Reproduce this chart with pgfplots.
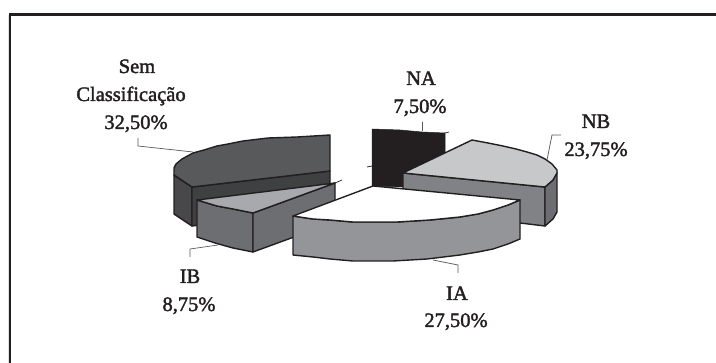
\documentclass[border=0pt]{standalone}
\usepackage{fontspec}
\setmainfont{Liberation Serif}
\newfontfamily\labfont[RawFeature={embolden=1.8}]{Liberation Serif}
\usepackage{pgfplots}
\pgfplotsset{compat=1.18}

\definecolor{ink}{HTML}{231F20}
\definecolor{semtop}{HTML}{58595B}
\definecolor{semside}{HTML}{3F4042}
\definecolor{semouter}{HTML}{48484A}
\definecolor{ibtop}{HTML}{A7A9AC}
\definecolor{ibside}{HTML}{6D6E71}
\definecolor{iaside}{HTML}{939598}
\definecolor{nbtop}{HTML}{C7C8CA}
\definecolor{nbside}{HTML}{808285}
\definecolor{nbouter}{HTML}{6D6E71}
\definecolor{leader}{HTML}{58595B}

\pgfplotsset{
  face/.style={draw=ink, line width=1.4pt, line join=round, fill=#1},
  lead/.style={draw=leader, line width=0.7pt, no markers},
}
\newcommand{\lab}[3]{\node[anchor=base, inner sep=0pt, text=ink,
  font=\labfont\fontsize{20.5}{24}\selectfont] at (axis cs:#1,#2) {#3};}

\begin{document}
\begin{tikzpicture}
\begin{axis}[
  at={(0,0)}, anchor=south west,
  x=1pt, y=-1pt,
  scale only axis,
  xmin=0, xmax=716, ymin=0, ymax=363,
  hide axis,
  no markers,
]
% page background
\addplot[draw=none, fill=white] coordinates {(0,0) (716,0) (716,363) (0,363)} -- cycle;

% frame, top and left
\addplot[draw=black!12, line width=1pt] coordinates {(8,15) (8,363)};
\addplot[draw=ink, line width=2.4pt] coordinates {(716,14.4) (10,14.4) (10,363)};

% NA: black slice at the back
\addplot[draw=ink, line width=0.7pt] coordinates {(445,133) (449,132)};
\addplot[draw=ink, line width=0.7pt] coordinates {(367,167) (372,166)};
\addplot[draw=ink, fill=ink, line width=0.5pt] coordinates
  {(372,129) (400,130) (422,132) (445,133) (445,175) (402,187) (372,186)} -- cycle;

% NB
\addplot[face=nbside] coordinates {(403,173) (545,187) (545,226) (520,223) (403,212)} -- cycle;
\addplot[face=nbouter] coordinates {(545,187) (553,180) (557,172) (557,212) (553,219) (545,226)} -- cycle;
\addplot[face=nbtop] coordinates
  {(405,172) (472,140) (488,143) (503,146) (516,149) (527,152) (537,155) (545,159) (552,164) (557,170) (557,173) (553,180) (545,187) (403,173)} -- cycle;

% Sem Classificacao
\addplot[face=semouter] coordinates {(174,175) (192,187) (192,226) (174,214)} -- cycle;
\addplot[face=semside] coordinates {(192,187) (330,171) (330,210) (192,226)} -- cycle;
\addplot[face=semtop] coordinates
  {(330,135) (297,137) (268,138) (243,141) (228,144) (217,146) (204,150) (193,153) (182,159) (176,164) (174,168) (174,175) (192,187) (330,171)} -- cycle;

% IB
\addplot[draw=ink, line width=0.7pt] coordinates {(335,183) (342,180)};
\addplot[face=ibside] coordinates {(197,200) (217,206) (233,209) (253,213) (253,252) (233,248) (215,243) (197,237)} -- cycle;
\addplot[face=ibside] coordinates {(253,213) (335,183) (335,222) (253,252)} -- cycle;
\addplot[face=ibtop] coordinates
  {(335,183) (253,213) (233,209) (217,206) (197,200)} -- cycle;

% IA
\addplot[face=iaside] coordinates
  {(293,216) (313,219) (330,220) (353,222) (397,222) (430,220) (460,217) (478,214) (493,210) (508,205) (520,200)
   (520,239) (508,244) (493,249) (478,252) (460,255) (427,259) (393,261) (353,261) (330,259) (313,257) (293,255)} -- cycle;
\addplot[face=white] coordinates
  {(373,186) (520,200) (508,205) (493,210) (478,214) (460,217) (430,220) (397,222) (353,222) (330,220) (313,219) (293,216)} -- cycle;

% leader lines
\addplot[lead] coordinates {(422,122) (422,131)};
\addplot[lead] coordinates {(561,135) (552,135) (547,160)};
\addplot[lead] coordinates {(138,138) (138,146) (193,152)};
\addplot[lead] coordinates {(458,273) (458,265) (433,260)};
\addplot[lead] coordinates {(190,257) (190,249) (218,245)};

% labels
\lab{137}{73}{Sem}
\lab{131}{101}{Classificação}
\lab{136}{129}{32,50\%}
\lab{421}{85}{NA}
\lab{420}{113}{7,50\%}
\lab{596}{128}{NB}
\lab{596}{156}{23,75\%}
\lab{457}{300}{IA}
\lab{456}{327}{27,50\%}
\lab{190}{283}{IB}
\lab{189}{311}{8,75\%}
\end{axis}
\end{tikzpicture}
\end{document}
